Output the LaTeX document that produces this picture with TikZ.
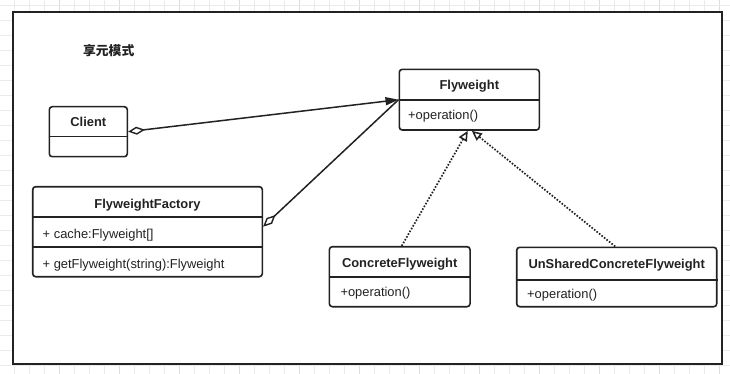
\documentclass[tikz,border=0pt]{standalone}
\usepackage{fontspec}
\setmainfont{Liberation Sans}
\newfontfamily\cjk{Noto Sans CJK SC}
\usetikzlibrary{arrows.meta}
\definecolor{ink}{HTML}{222222}
\definecolor{gridminor}{HTML}{EBEBEB}
\definecolor{gridmajor}{HTML}{DDDDDD}
\begin{document}
\begin{tikzpicture}[x=1pt,y=-1pt,
  classbox/.style={draw=ink, line width=1.6pt, rounded corners=3pt, fill=white, inner sep=0pt},
  cname/.style={font=\fontsize{12.9}{15}\selectfont\bfseries, text=ink, inner sep=0pt, anchor=base},
  member/.style={font=\fontsize{12.9}{15}\selectfont, text=ink, inner sep=0pt, anchor=base west},
  divider/.style={draw=ink, line width=1.6pt},
  aggr/.style={draw=ink, line width=1.5pt,
    {Diamond[open,length=17pt,width=8pt,line width=1.4pt]}-},
  navigable/.style={aggr, {Diamond[open,length=17pt,width=8pt,line width=1.4pt]}-{Triangle[length=13pt,width=8pt]}},
  realize/.style={draw=ink, line width=1.7pt, dash pattern=on 1.6pt off 1.6pt,
    -{Triangle[open,length=10pt,width=9pt,line width=1.5pt]}},
]
\useasboundingbox (0,0) rectangle (730,374);

% background grid
\foreach \gx in {-0.7,14.3,...,730}
  \draw[gridminor, line width=0.7pt] (\gx,0) -- (\gx,374);
\foreach \gx in {59.3,119.3,...,730}
  \draw[gridmajor, line width=0.7pt] (\gx,0) -- (\gx,374);
\foreach \gy in {5.5,20.5,...,374}
  \draw[gridminor, line width=0.7pt] (0,\gy) -- (730,\gy);

% canvas frame
\draw[ink, line width=2.5pt, fill=white] (13,12) rectangle (722,364);

% title
\node[font=\cjk\bfseries\fontsize{12.8}{15}\selectfont, text=ink, inner sep=0pt, anchor=base]
  (title) at (108.7,55.5) {享元模式};

% Client
\node[classbox, minimum width=78pt, minimum height=50pt] (client) at (88.3,131.7) {};
\draw[divider] (client.west |- 0,136.7) -- (client.east |- 0,136.7);
\node[cname] (clientname) at (88.3,127) {Client};

% FlyweightFactory
\node[classbox, minimum width=229.6pt, minimum height=90pt] (factory) at (147.5,231.7) {};
\draw[divider] (factory.west |- 0,216.7) -- (factory.east |- 0,216.7);
\draw[divider] (factory.west |- 0,246.7) -- (factory.east |- 0,246.7);
\node[cname] (factoryname) at (147.5,208) {FlyweightFactory};
\node[member] (factoryattr) at (42.5,238) {+ cache:Flyweight[]};
\node[member] (factoryop) at (42.5,268) {+ getFlyweight(string):Flyweight};

% Flyweight
\node[classbox, minimum width=140pt, minimum height=60.7pt] (fly) at (469.3,99.7) {};
\draw[divider] (fly.west |- 0,100) -- (fly.east |- 0,100);
\node[cname] (flyname) at (469.3,89.6) {Flyweight};
\node[member] (flyop) at (408,119.6) {+operation()};

% ConcreteFlyweight
\node[classbox, minimum width=140.7pt, minimum height=60pt] (cf) at (399.7,276.7) {};
\draw[divider] (cf.west |- 0,276.7) -- (cf.east |- 0,276.7);
\node[cname] (cfname) at (399.7,267.3) {ConcreteFlyweight};
\node[member] (cfop) at (340.3,296.9) {+operation()};

% UnSharedConcreteFlyweight
\node[classbox, minimum width=200pt, minimum height=59.4pt] (us) at (616.7,277) {};
\draw[divider] (us.west |- 0,280) -- (us.east |- 0,280);
\node[cname] (usname) at (616.7,268.9) {UnSharedConcreteFlyweight};
\node[member] (usop) at (527,298.6) {+operation()};

% relations
\draw[navigable] (client.east) -- (fly.west);
\draw[aggr] ([yshift=5pt]factory.east) -- (fly.west);
\draw[realize] ([xshift=2pt]cf.north) -- ([xshift=-1.5pt]fly.south);
\draw[realize] ([xshift=-1.5pt]us.north) -- ([xshift=2.5pt]fly.south);
\end{tikzpicture}
\end{document}
